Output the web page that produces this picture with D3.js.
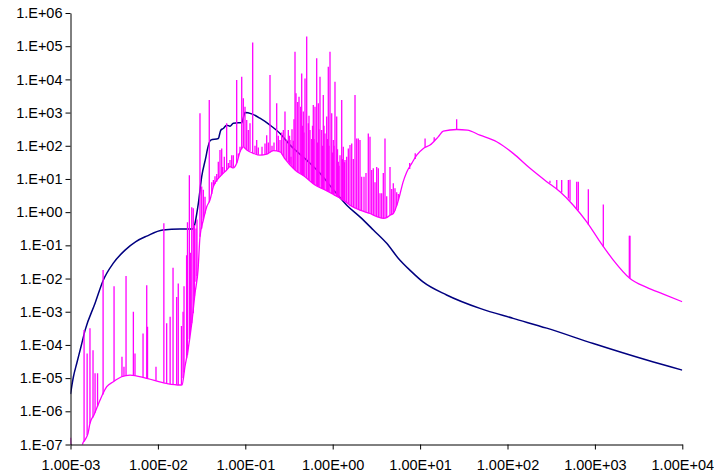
<!DOCTYPE html>
<html>
<head>
<meta charset="utf-8">
<script src="https://cdn.jsdelivr.net/npm/d3@7"></script>
<style>
  body { margin: 0; background: #fff; }
  svg text { font-family: "Liberation Sans", Arial, sans-serif; font-size: 14.5px; fill: #000; }
</style>
</head>
<body>
<svg width="714" height="476"></svg>
<script>
var xTicks = [1e-3, 1e-2, 1e-1, 1e0, 1e1, 1e2, 1e3, 1e4];
var xTickLabels = ['1.00E-03', '1.00E-02', '1.00E-01', '1.00E+00', '1.00E+01', '1.00E+02', '1.00E+03', '1.00E+04'];
var yTicks = [1e-7, 1e-6, 1e-5, 1e-4, 1e-3, 1e-2, 1e-1, 1e0, 1e1, 1e2, 1e3, 1e4, 1e5, 1e6];
var yTickLabels = ['1.E-07', '1.E-06', '1.E-05', '1.E-04', '1.E-03', '1.E-02', '1.E-01',
                   '1.E+00', '1.E+01', '1.E+02', '1.E+03', '1.E+04', '1.E+05', '1.E+06'];

// smooth dark blue series [x, y]
var navySeries = [
  [1.0e-3, 3.3e-6], [1.08e-3, 1.1e-5], [1.18e-3, 2.8e-5], [1.32e-3, 9e-5], [1.47e-3, 2.8e-4],
  [1.91e-3, 1.8e-3], [2.37e-3, 8.9e-3], [3.09e-3, 2.9e-2], [4.21e-3, 7.2e-2], [5.6e-3, 0.13],
  [7.45e-3, 0.19], [1.14e-2, 0.29], [1.79e-2, 0.31], [2.5e-2, 0.31], [2.9e-2, 1.8],
  [3.17e-2, 11.7], [3.55e-2, 47], [3.67e-2, 74], [4.02e-2, 148], [4.91e-2, 166],
  [5.24e-2, 295], [5.6e-2, 331], [6.12e-2, 417], [6.68e-2, 389], [7.3e-2, 479],
  [8.32e-2, 490], [9.1e-2, 490], [9.93e-2, 1000], [0.118, 912], [0.147, 676],
  [0.192, 417], [0.25, 234], [0.325, 105], [0.504, 37], [0.716, 14.8],
  [1.02, 4.7], [1.45, 1.62], [2.05, 0.72], [2.92, 0.29], [4.15, 0.115],
  [5.62, 0.041], [7.8, 0.017], [10.8, 7.9e-3], [20.1, 3.2e-3], [48.4, 1.26e-3],
  [116, 6.3e-4], [281, 3.2e-4], [960, 1.1e-4], [3917, 3.5e-5], [1e4, 1.74e-5]
];

// magenta series: lower envelope [x, y]
var pinkBase = [
  [1.0e-3, 1.6e-7], [1.04e-3, 3.2e-8], [1.32e-3, 6.3e-8], [1.38e-3, 1.07e-7], [1.47e-3, 1.4e-7],
  [1.59e-3, 2.2e-7], [1.67e-3, 4.3e-7], [1.86e-3, 7.9e-7], [2.18e-3, 2.2e-6], [2.6e-3, 5.5e-6],
  [3.09e-3, 7.8e-6], [3.85e-3, 1.1e-5], [4.8e-3, 1.23e-5], [7.45e-3, 9.8e-6], [1.26e-2, 6.9e-6],
  [1.79e-2, 6.2e-6], [1.89e-2, 6.3e-6], [2.04e-2, 2.2e-5], [2.21e-2, 6.9e-5], [2.44e-2, 4.5e-4],
  [2.66e-2, 3.6e-3], [2.88e-2, 1.8e-2], [3.03e-2, 0.18], [3.31e-2, 0.575], [3.62e-2, 1.45],
  [3.94e-2, 2.3], [4.31e-2, 5.9], [5.13e-2, 11.7], [6.12e-2, 18.6], [6.68e-2, 23.4],
  [7.29e-2, 21.5], [7.97e-2, 29.5], [8.7e-2, 66], [9.49e-2, 93], [0.104, 74],
  [0.124, 59], [0.147, 52], [0.176, 56], [0.209, 71], [0.25, 66],
  [0.2845, 40], [0.3704, 18.6], [0.4821, 11.7], [0.6273, 6.6], [0.8164, 4.7],
  [1.062, 3.2], [1.322, 2.3], [1.577, 1.62], [2.053, 1.15], [2.672, 0.91],
  [3.477, 0.68], [3.793, 0.65], [4.147, 0.68], [4.525, 0.81], [4.936, 0.91],
  [5.398, 1.58], [5.89, 3.5], [6.37, 7.9], [7.02, 16], [8.02, 29.5],
  [9.15, 52], [10.9, 83], [13, 105], [16.1, 186], [18.4, 275],
  [26.2, 309], [34.7, 295], [48.4, 209], [75.2, 132], [116, 59],
  [181, 21], [281, 8.3], [399, 4.1], [566, 1.62], [806, 0.51],
  [1143, 0.129], [1624, 0.036], [2521, 0.01], [3917, 5.4e-3], [6067, 3.4e-3],
  [1e4, 2.0e-3]
];

// magenta series: spikes [x, foot, top]
var pinkSpikes = [
  [1.43e-3, 1.2e-7, 2.8e-4], [1.55e-3, 1.9e-7, 5.5e-5], [1.67e-3, 4.3e-7, 3.2e-4], [1.81e-3, 6.5e-7, 6.9e-5],
  [1.91e-3, 9e-7, 1.4e-5], [2.04e-3, 1.4e-6, 1.4e-5], [2.36e-3, 3.2e-6, 1.8e-2], [3.15e-3, 8e-6, 5.9e-3],
  [3.88e-3, 1.1e-5, 4.4e-5], [4.09e-3, 1.15e-5, 2.2e-5], [4.32e-3, 1.2e-5, 1.2e-2], [5.24e-3, 1.2e-5, 1.0e-3],
  [5.47e-3, 1.2e-5, 5.5e-5], [6.76e-3, 1.05e-5, 2.2e-4], [7.45e-3, 9.8e-6, 6.3e-3], [7.61e-3, 9.8e-6, 3.5e-4],
  [9.51e-3, 8.5e-6, 2.2e-5], [1.17e-2, 7.2e-6, 0.46], [1.26e-2, 6.9e-6, 4.5e-4], [1.38e-2, 6.6e-6, 7.1e-4],
  [1.49e-2, 6.5e-6, 2.1e-2], [1.64e-2, 6.3e-6, 2.8e-3], [1.71e-2, 6.2e-6, 7.1e-3],
  [1.86e-2, 6.3e-6, 3.7e-4], [1.94e-2, 1e-5, 1e-3], [1.99e-2, 1.5e-5, 5.9e-3], [2.13e-2, 4e-5, 0.05],
  [2.18e-2, 5e-5, 0.5], [2.29e-2, 1.5e-4, 13], [2.35e-2, 2.5e-4, 0.06], [2.44e-2, 4.5e-4, 1.4],
  [2.54e-2, 9e-4, 1.3], [2.62e-2, 3e-3, 0.4], [2.73e-2, 8e-3, 0.32], [2.8e-2, 1.2e-2, 0.6],
  [0.0303, 0.18, 950], [0.0317, 0.32, 5.9], [0.0331, 0.58, 4.7], [0.0346, 0.91, 2.9],
  [0.0387, 2.0, 2400], [0.0413, 3.5, 7.9], [0.0431, 5.9, 9.3], [0.045, 7.1, 12],
  [0.0471, 8.3, 14], [0.0491, 10, 33], [0.0513, 11.7, 74], [0.0537, 13, 83],
  [0.0551, 14, 23], [0.0575, 16, 47], [0.0612, 18.6, 480], [0.0639, 21, 30],
  [0.0668, 23, 37], [0.0699, 22, 52], [0.0729, 22, 52], [0.0797, 30, 9500],
  [0.0832, 45, 59], [0.087, 66, 93], [0.091, 79, 12000], [0.0949, 93, 2700],
  [0.0992, 83, 1500], [0.1038, 74, 600], [0.1082, 71, 300], [0.1132, 68, 480],
  [0.1215, 60, 1.3e5], [0.1291, 58, 100], [0.135, 56, 148], [0.1409, 54, 89],
  [0.1553, 52, 93], [0.168, 55, 117], [0.1757, 56, 209], [0.1833, 59, 126],
  [0.1917, 63, 13500], [0.2021, 68, 100], [0.213, 71, 126], [0.2287, 69, 1900],
  [0.2385, 68, 200], [0.2495, 66, 148], [0.2609, 56, 250], [0.2721, 48, 300],
  [0.2845, 40, 1070], [0.2976, 35, 148], [0.3105, 32, 300], [0.3205, 29, 200],
  [0.3247, 28, 148], [0.3334, 26, 47], [0.3423, 23, 316], [0.3542, 21, 141],
  [0.3608, 20, 630], [0.3704, 18.6, 68000], [0.3803, 17.8, 3800], [0.3977, 16.6, 2100],
  [0.4116, 15.5, 3000], [0.4305, 14.5, 1500], [0.4419, 13.8, 15000], [0.4514, 13.2, 400],
  [0.4609, 12.6, 1070], [0.4695, 12.3, 250], [0.4821, 11.7, 10700], [0.5041, 10.7, 1.95e5],
  [0.5258, 9.8, 480], [0.5355, 9.3, 800], [0.5499, 8.9, 300], [0.575, 7.9, 160],
  [0.5873, 7.6, 400], [0.5998, 7.2, 1700], [0.6109, 7.1, 160], [0.6273, 6.6, 1500],
  [0.656, 6.2, 43000], [0.67, 6.0, 126], [0.6842, 5.9, 1900], [0.6969, 5.75, 316],
  [0.7156, 5.6, 12000], [0.7483, 5.25, 300], [0.7643, 5.1, 100], [0.7805, 5.0, 3400],
  [0.7952, 4.9, 400], [0.8164, 4.7, 234], [0.8538, 4.4, 760], [0.8719, 4.3, 160],
  [0.8906, 4.2, 24000], [0.9072, 4.1, 100], [0.9313, 3.9, 68000], [0.9741, 3.6, 950],
  [0.9947, 3.55, 63], [1.016, 3.5, 148], [1.035, 3.4, 100], [1.062, 3.2, 8500],
  [1.111, 3.0, 760], [1.135, 2.9, 79], [1.159, 2.8, 33], [1.181, 2.7, 25],
  [1.212, 2.6, 52], [1.268, 2.4, 2400], [1.295, 2.35, 40], [1.322, 2.3, 93],
  [1.365, 2.15, 32], [1.382, 2.1, 37], [1.446, 1.9, 47], [1.509, 1.78, 83],
  [1.577, 1.62, 105], [1.65, 1.51, 117], [1.721, 1.41, 40], [1.8, 1.32, 3400],
  [1.882, 1.26, 166], [1.963, 1.2, 166], [2.053, 1.15, 148], [2.147, 1.1, 11.7],
  [2.281, 1.05, 11.7], [2.404, 1.0, 15], [2.555, 0.93, 234], [2.672, 0.91, 186],
  [2.794, 0.87, 18.6], [2.914, 0.81, 21], [3.048, 0.78, 7.9], [3.187, 0.74, 23],
  [3.325, 0.71, 21], [3.477, 0.68, 3.7], [3.636, 0.66, 3.7], [3.793, 0.65, 15],
  [3.966, 0.66, 166], [4.147, 0.68, 3.0], [4.525, 0.81, 23], [4.733, 0.87, 5.0],
  [4.936, 0.91, 7.4], [5.161, 1.12, 5.25], [5.398, 1.58, 4.0], [5.631, 2.24, 3.5],
  [7.6, 20, 30], [8.8, 40, 60], [11.4, 90, 166], [14.5, 140, 180], [26.2, 309, 630],
  [306, 7.5, 8.9], [366, 5.0, 9.3], [417, 3.9, 9.3], [497, 2.6, 9.3],
  [519, 2.2, 9.5], [619, 1.25, 8.3], [646, 1.15, 8.3], [841, 0.42, 4.9],
  [1248, 0.09, 1.7], [2477, 0.011, 0.195], [2521, 0.01, 0.195]
];

var plotLeft = 70.5, plotRight = 682.3, plotTop = 13, plotBottom = 444.5;

var x = d3.scaleLog().domain([1e-3, 1e4]).range([plotLeft, plotRight]);
var y = d3.scaleLog().domain([1e-7, 1e6]).range([plotBottom, plotTop]);

var svg = d3.select('svg');

svg.append('defs').append('clipPath')
  .attr('id', 'plot')
  .append('rect')
    .attr('x', plotLeft).attr('y', plotTop)
    .attr('width', plotRight - plotLeft).attr('height', plotBottom - plotTop);

var line = d3.line()
  .curve(d3.curveMonotoneX)
  .x(function(d) { return x(d[0]); })
  .y(function(d) { return y(d[1]); });

var g = svg.append('g').attr('clip-path', 'url(#plot)');

g.append('path')
  .datum(navySeries)
  .attr('fill', 'none')
  .attr('stroke', '#000080')
  .attr('stroke-width', 1.5)
  .attr('stroke-linejoin', 'round')
  .attr('d', line);

g.append('path')
  .datum(pinkBase)
  .attr('fill', 'none')
  .attr('stroke', '#ff00ff')
  .attr('stroke-width', 1.3)
  .attr('stroke-linejoin', 'round')
  .attr('d', line);

// each spike is a thin vertical stroke from the envelope up to its peak
g.selectAll('line.spike')
  .data(pinkSpikes)
  .enter()
    .append('line')
      .attr('class', 'spike')
      .attr('x1', function(d) { return x(d[0]); })
      .attr('x2', function(d) { return x(d[0]); })
      .attr('y1', function(d) { return y(d[1]); })
      .attr('y2', function(d) { return y(d[2]); })
      .attr('stroke', '#ff00ff')
      .attr('stroke-width', 1.3);

// axes
var yAxis = d3.axisLeft(y)
  .tickValues(yTicks)
  .tickFormat(function(d, i) { return yTickLabels[i]; })
  .tickSize(5)
  .tickSizeOuter(0)
  .tickPadding(3);

var xAxis = d3.axisBottom(x)
  .tickValues(xTicks)
  .tickFormat(function(d, i) { return xTickLabels[i]; })
  .tickSize(5)
  .tickSizeOuter(0)
  .tickPadding(10);

svg.append('g')
  .attr('transform', 'translate(' + plotLeft + ',0)')
  .call(yAxis)
  .call(function(a) {
    a.selectAll('text').attr('font-size', null).attr('font-family', null);
  });

svg.append('g')
  .attr('transform', 'translate(0,' + plotBottom + ')')
  .call(xAxis)
  .call(function(a) {
    a.selectAll('text').attr('font-size', null).attr('font-family', null);
  });

svg.selectAll('.domain, .tick line').attr('stroke', '#000');
</script>
</body>
</html>
